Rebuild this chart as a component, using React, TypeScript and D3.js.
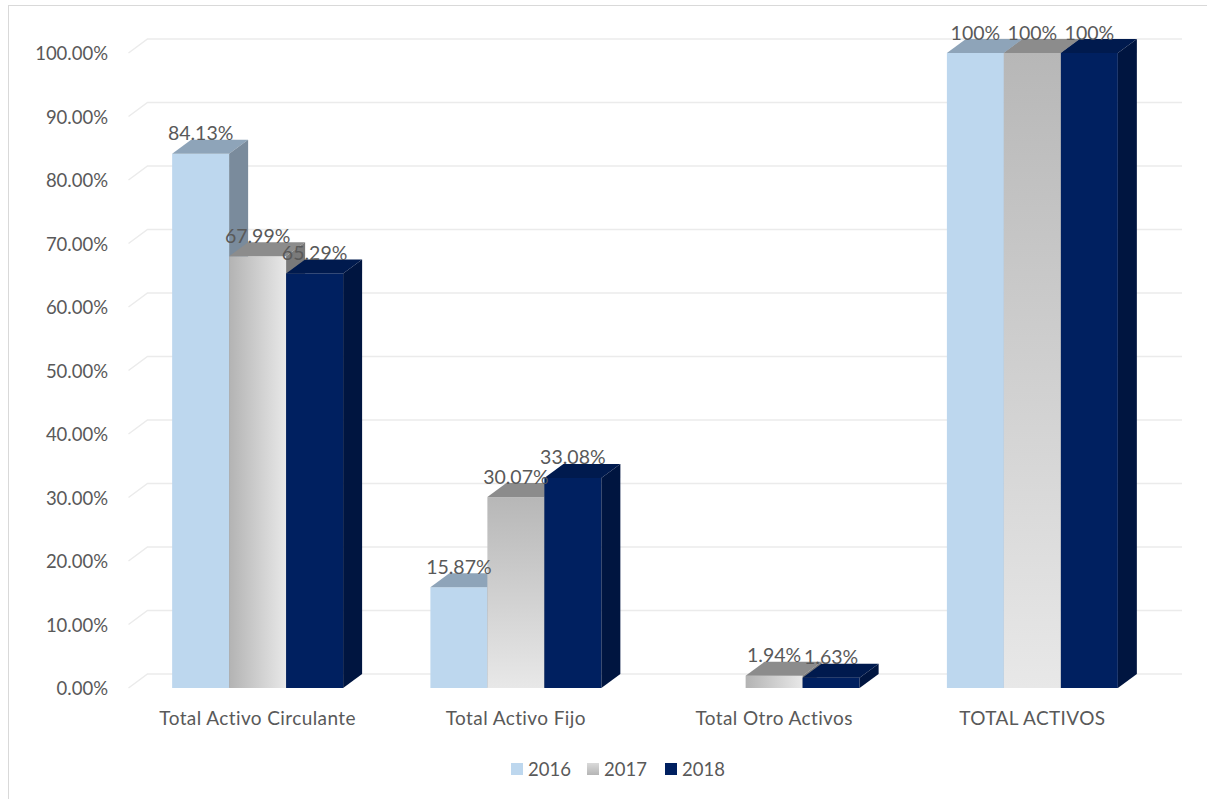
import React from "react";
import * as d3 from "d3";

const categories = ["Total Activo Circulante", "Total Activo Fijo", "Total Otro Activos", "TOTAL ACTIVOS"];
const seriesNames = ["2016", "2017", "2018"];
const values2016: (number | null)[] = [84.13, 15.87, null, 100];
const values2017: (number | null)[] = [67.99, 30.07, 1.94, 100];
const values2018: (number | null)[] = [65.29, 33.08, 1.63, 100];
const yTicks = [0, 10, 20, 30, 40, 50, 60, 70, 80, 90, 100];
const horizontalGradientCats = ["Total Activo Circulante", "Total Otro Activos"];

const W = 1207;
const H = 799;
const DX = 19;
const DY = -14;
const FONT = "Lato, 'Liberation Sans', sans-serif";
const TXT = "#595959";

const seriesStyle = [
  { front: "#BDD7EE", top: "#8EA4B9", side: "#7A8B9C" },
  { front: "url(#g17v)", top: "#8C8C8C", side: "#7A7A7A" },
  { front: "#002060", top: "#001A4E", side: "#001540" },
];

function fmt(v: number) {
  return v === 100 ? "100%" : d3.format(".2f")(v) + "%";
}

export default function App() {
  const x = d3.scaleBand<string>().domain(categories).range([128.5, 1161.5]).paddingInner(0.338).paddingOuter(0.169);
  const xs = d3.scaleBand<string>().domain(seriesNames).range([0, x.bandwidth()]).padding(0);
  const y = d3.scaleLinear().domain([0, 100]).range([688, 53]);
  const data = [values2016, values2017, values2018];
  const x0 = 128.5;
  const x1 = 1163;

  const bars: React.ReactNode[] = [];
  const labels: React.ReactNode[] = [];
  categories.forEach((c, ci) => {
    seriesNames.forEach((s, si) => {
      const v = data[si][ci];
      if (v == null) return;
      const bx = (x(c) as number) + (xs(s) as number);
      const bw = xs.bandwidth();
      const yt = y(v);
      const yb = y(0);
      const st = seriesStyle[si];
      let front = st.front;
      if (si === 1) front = horizontalGradientCats.includes(c) ? "url(#g17h)" : "url(#g17v)";
      bars.push(
        <g key={`b${ci}-${si}`}>
          <rect x={bx} y={yt} width={bw} height={yb - yt} fill={front} />
          <path d={`M${bx},${yt}L${bx + DX},${yt + DY}L${bx + bw + DX},${yt + DY}L${bx + bw},${yt}Z`} fill={st.top} />
          <path d={`M${bx + bw},${yt}L${bx + bw + DX},${yt + DY}L${bx + bw + DX},${yb + DY}L${bx + bw},${yb}Z`} fill={st.side} />
        </g>
      );
      labels.push(
        <text key={`l${ci}-${si}`} x={bx + bw / 2} y={yt + DY - 7} textAnchor="middle" dominantBaseline="central"
          fontFamily={FONT} fontSize={19.5} fill={TXT}>{fmt(v)}</text>
      );
    });
  });

  const legendX = [511, 587, 665];
  return (
    <svg width={W} height={H} style={{ position: "absolute", left: 0, top: 0, background: "#fff" }}>
      <defs>
        <linearGradient id="g17h" x1="0" y1="0" x2="1" y2="0">
          <stop offset="0" stopColor="#B3B3B3" />
          <stop offset="1" stopColor="#E8E8E8" />
        </linearGradient>
        <linearGradient id="g17v" x1="0" y1="0" x2="0" y2="1">
          <stop offset="0" stopColor="#B7B7B7" />
          <stop offset="1" stopColor="#E8E8E8" />
        </linearGradient>
        <linearGradient id="g17l" x1="0" y1="0" x2="0" y2="1">
          <stop offset="0" stopColor="#DADADA" />
          <stop offset="1" stopColor="#B5B5B5" />
        </linearGradient>
      </defs>
      <rect x={0} y={0} width={W} height={H} fill="#fff" />
      <line x1={8} y1={5.5} x2={W} y2={5.5} stroke="#D9D9D9" strokeWidth={1} />
      <line x1={8.5} y1={5} x2={8.5} y2={H} stroke="#D9D9D9" strokeWidth={1} />
      {yTicks.map((t) => (
        <g key={t}>
          <path d={`M${x0},${y(t)}L${x0 + DX},${y(t) + DY}L${x1 + DX},${y(t) + DY}`} fill="none" stroke="#EBEBEB" strokeWidth={1.5} />
          <text x={108} y={y(t)} textAnchor="end" dominantBaseline="central" fontFamily={FONT} fontSize={18.5} fill={TXT}>
            {d3.format(".2f")(t) + "%"}
          </text>
        </g>
      ))}
      {bars}
      {labels}
      {categories.map((c) => (
        <text key={c} x={(x(c) as number) + x.bandwidth() / 2} y={717} textAnchor="middle" dominantBaseline="central"
          fontFamily={FONT} fontSize={19} letterSpacing={0.4} fill={TXT}>{c}</text>
      ))}
      {seriesNames.map((s, i) => (
        <g key={s}>
          <rect x={legendX[i]} y={763} width={12} height={12}
            fill={i === 1 ? "url(#g17l)" : seriesStyle[i].front} />
          <text x={legendX[i] + 17} y={769} dominantBaseline="central" fontFamily={FONT} fontSize={18.5} fill={TXT}>{s}</text>
        </g>
      ))}
    </svg>
  );
}
